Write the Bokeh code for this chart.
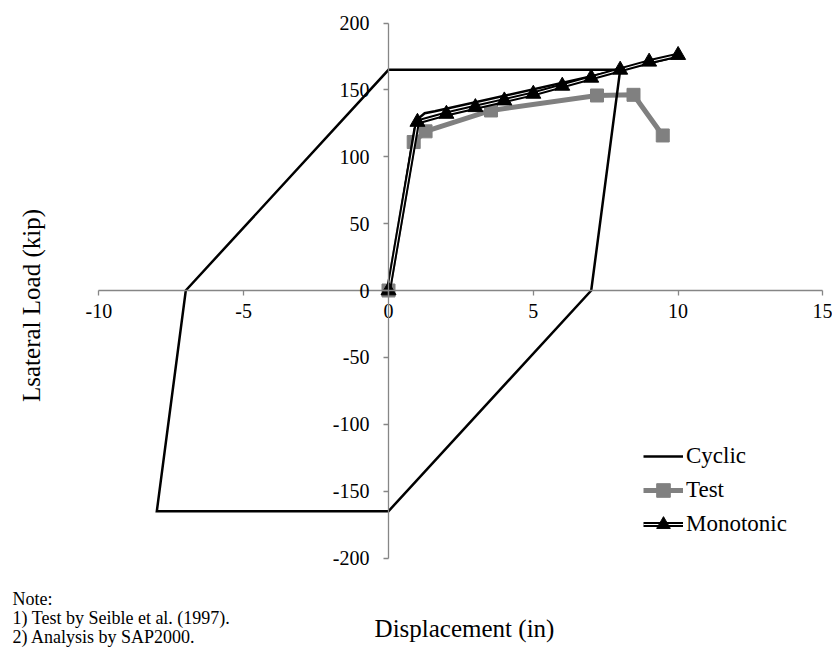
import math
from bokeh.plotting import figure
from bokeh.models import (LinearAxis, Range1d, FixedTicker, Label, Legend,
                          LegendItem, CustomJSTickFormatter)
from bokeh.embed import file_html
from bokeh.resources import INLINE

# ---- data ----
cyc_x = [0, 0.9, 1.05, 1.25, 1.6, 8, 7, 0, -8, -7, 0, 8, 10]
cyc_y = [0, 121, 129, 132.5, 134, 165, 0, -165, -165, 0, 165, 165, 175]
test_x = [0, 0.87, 1.28, 3.54, 7.2, 8.46, 9.47]
test_y = [0, 111, 119, 134.6, 145.8, 146.3, 115.9]
mono_x = [0, 1, 2, 3, 4, 5, 6, 7, 8, 9, 10]
mono_y = [0, 126, 132, 137, 142, 147, 153, 159, 165, 171, 176]
x_ticks = [-10, -5, 0, 5, 10, 15]
y_ticks = [-200, -150, -100, -50, 0, 50, 100, 150, 200]

FONT = "Liberation Serif"
AX = "#868686"

W, H = 832, 648
X0PX, XS = 388.0, 28.96    # pixel of x=0, pixels per unit
Y0PX, YS = 290.0, 1.3375   # pixel of y=0, pixels per kip


def px2x(px):
    return (px - X0PX) / XS


def py2y(py):
    return (Y0PX - py) / YS


p = figure(width=W, height=H,
           x_range=Range1d(px2x(0), px2x(W)),
           y_range=Range1d(py2y(H), py2y(0)),
           output_backend="svg", toolbar_location=None,
           x_axis_type=None, y_axis_type=None,
           min_border_left=0, min_border_right=0, min_border_top=0,
           min_border_bottom=0)
p.outline_line_color = None
p.background_fill_color = "white"

fmt = CustomJSTickFormatter(code="return tick.toString();")


def style_axis(ax):
    ax.axis_line_color = AX
    ax.axis_line_width = 1.3
    ax.major_tick_line_color = AX
    ax.major_tick_line_width = 1.3
    ax.major_tick_out = 5
    ax.major_tick_in = 0
    ax.minor_tick_line_color = None
    ax.major_label_text_font = FONT
    ax.major_label_text_font_size = "20px"
    ax.major_label_text_color = "black"
    ax.formatter = fmt


xaxis = LinearAxis(fixed_location=0, ticker=FixedTicker(ticks=x_ticks),
                   bounds=(x_ticks[0], x_ticks[-1]))
style_axis(xaxis)
xaxis.major_label_standoff = 8
p.add_layout(xaxis, "below")

yaxis = LinearAxis(fixed_location=0, ticker=FixedTicker(ticks=y_ticks),
                   bounds=(y_ticks[0], y_ticks[-1]))
style_axis(yaxis)
yaxis.major_label_standoff = 14
p.add_layout(yaxis, "left")

# ---- series ----
t_line = p.line(test_x, test_y, line_color="#808080", line_width=5)
t_mark = p.scatter(test_x, test_y, marker="square", size=13,
                   fill_color="#808080", line_color="#808080")

c_line = p.line(cyc_x, cyc_y, line_color="black", line_width=2.5,
                line_join="miter")

m_line = p.line(mono_x, mono_y, line_color="black", line_width=5)
m_inner = p.line(mono_x, mono_y, line_color="white", line_width=1)
m_mark = p.scatter(mono_x, mono_y, marker="triangle", size=15,
                   fill_color="black", line_color="black")

legend = Legend(items=[
    LegendItem(label="Cyclic", renderers=[c_line]),
    LegendItem(label="Test", renderers=[t_line, t_mark]),
    LegendItem(label="Monotonic", renderers=[m_line, m_inner, m_mark]),
], location=(643, 107))
legend.border_line_color = None
legend.background_fill_alpha = 0
legend.padding = 0
legend.margin = 0
legend.spacing = 0
legend.glyph_width = 40
legend.glyph_height = 34
legend.label_height = 34
legend.label_standoff = 3
legend.label_text_font = FONT
legend.label_text_font_size = "23px"
legend.label_text_color = "black"
p.add_layout(legend, "center")

# ---- text ----
p.add_layout(Label(x=px2x(464), y=py2y(628), text="Displacement (in)",
                   text_font=FONT, text_font_size="25px", text_color="black",
                   text_align="center", text_baseline="alphabetic"))
p.add_layout(Label(x=px2x(31), y=py2y(305), text="Lsateral Load (kip)",
                   text_font=FONT, text_font_size="25px", text_color="black",
                   angle=math.pi / 2,
                   text_align="center", text_baseline="middle"))
notes = ["Note:", "1) Test by Seible et al. (1997).", "2) Analysis by SAP2000."]
for i, t in enumerate(notes):
    p.add_layout(Label(x=px2x(12), y=py2y(598 + 19 * i), text=t,
                       text_font=FONT, text_font_size="18px",
                       text_color="black",
                       text_align="left", text_baseline="alphabetic"))

open("out.html", "w").write(file_html(p, INLINE))
